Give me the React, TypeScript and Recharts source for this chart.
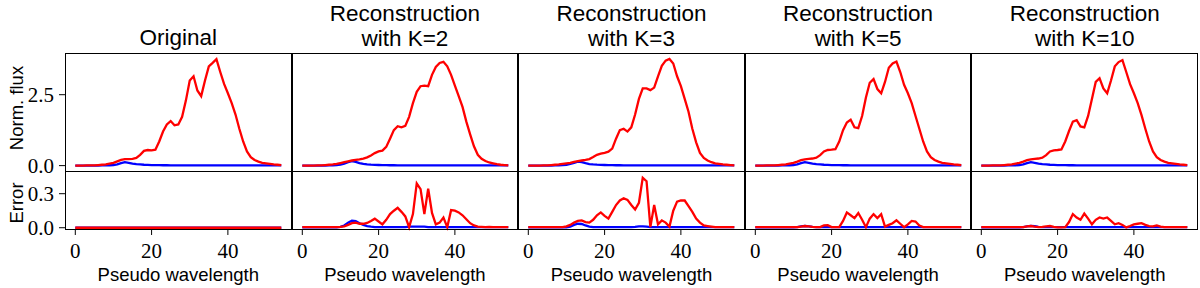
import React from 'react';
import { LineChart, Line, XAxis, YAxis } from 'recharts';

// pseudo wavelength index
const wavelength = Array.from({ length: 55 }, (_, i) => i);

const panelTitles = [
  ['Original'],
  ['Reconstruction', 'with K=2'],
  ['Reconstruction', 'with K=3'],
  ['Reconstruction', 'with K=5'],
  ['Reconstruction', 'with K=10'],
];

// normalised flux, red spectrum
const fluxOriginal = [0, 0, 0, 0.01, 0.01, 0.01, 0.02, 0.03, 0.04, 0.07, 0.1, 0.15, 0.2, 0.23, 0.23, 0.24, 0.27, 0.38, 0.52, 0.55, 0.54, 0.56, 0.85, 1.2, 1.45, 1.57, 1.42, 1.45, 1.72, 2.3, 3.0, 3.15, 2.65, 2.45, 3.0, 3.5, 3.62, 3.75, 3.3, 2.88, 2.55, 2.2, 1.8, 1.3, 0.85, 0.5, 0.3, 0.2, 0.14, 0.1, 0.08, 0.06, 0.04, 0.03, 0.02];
const fluxK2 = [0, 0, 0, 0, 0.01, 0.01, 0.02, 0.03, 0.04, 0.06, 0.09, 0.12, 0.15, 0.18, 0.2, 0.22, 0.25, 0.29, 0.36, 0.44, 0.5, 0.53, 0.66, 0.95, 1.25, 1.39, 1.35, 1.4, 1.72, 2.2, 2.6, 2.8, 2.82, 2.8, 3.2, 3.48, 3.62, 3.66, 3.5, 3.2, 2.82, 2.45, 2.07, 1.55, 1.1, 0.68, 0.38, 0.24, 0.16, 0.11, 0.08, 0.05, 0.03, 0.02, 0.01];
const fluxK3 = [0, 0, 0, 0, 0.01, 0.01, 0.02, 0.03, 0.04, 0.06, 0.08, 0.1, 0.13, 0.16, 0.18, 0.2, 0.23, 0.3, 0.38, 0.42, 0.45, 0.49, 0.6, 0.95, 1.25, 1.3, 1.2, 1.35, 1.8, 2.35, 2.72, 2.72, 2.66, 2.75, 3.15, 3.52, 3.7, 3.76, 3.6, 3.15, 2.8, 2.35, 1.9, 1.3, 0.82, 0.45, 0.27, 0.18, 0.12, 0.08, 0.06, 0.04, 0.03, 0.02, 0.01];
const fluxK5 = [0, 0, 0, 0.01, 0.01, 0.01, 0.02, 0.03, 0.04, 0.07, 0.1, 0.14, 0.19, 0.22, 0.24, 0.25, 0.28, 0.37, 0.5, 0.55, 0.56, 0.58, 0.85, 1.25, 1.52, 1.62, 1.35, 1.32, 1.75, 2.4, 2.92, 3.05, 2.7, 2.55, 2.95, 3.45, 3.6, 3.67, 3.3, 2.85, 2.55, 2.2, 1.75, 1.3, 0.85, 0.5, 0.3, 0.2, 0.14, 0.1, 0.08, 0.06, 0.04, 0.03, 0.02];
const fluxK10 = [0, 0, 0, 0.01, 0.01, 0.01, 0.02, 0.03, 0.04, 0.07, 0.1, 0.14, 0.19, 0.22, 0.24, 0.25, 0.28, 0.37, 0.5, 0.54, 0.55, 0.57, 0.85, 1.22, 1.55, 1.6, 1.38, 1.35, 1.75, 2.35, 2.95, 3.08, 2.72, 2.55, 3.0, 3.5, 3.65, 3.72, 3.3, 2.87, 2.55, 2.2, 1.78, 1.3, 0.85, 0.5, 0.3, 0.2, 0.14, 0.1, 0.08, 0.06, 0.04, 0.03, 0.02];

// normalised flux, blue spectrum
const blueOriginal = [0, 0, 0, 0, 0, 0, 0, 0.005, 0.008, 0.012, 0.02, 0.045, 0.085, 0.12, 0.1, 0.07, 0.05, 0.04, 0.03, 0.025, 0.02, 0.018, 0.015, 0.013, 0.012, 0.011, 0.01, 0.01, 0.01, 0.01, 0.01, 0.01, 0.01, 0.01, 0.01, 0.01, 0.01, 0.01, 0.01, 0.01, 0.01, 0.01, 0.008, 0.008, 0.006, 0.005, 0.005, 0.005, 0.005, 0.005, 0.005, 0.005, 0.005, 0.005, 0.005];
const blueK2 = [0, 0, 0, 0, 0, 0, 0, 0.005, 0.01, 0.02, 0.035, 0.07, 0.12, 0.16, 0.13, 0.09, 0.06, 0.045, 0.035, 0.028, 0.022, 0.018, 0.015, 0.013, 0.012, 0.011, 0.01, 0.01, 0.01, 0.01, 0.01, 0.01, 0.01, 0.01, 0.01, 0.01, 0.01, 0.01, 0.01, 0.01, 0.01, 0.01, 0.008, 0.008, 0.006, 0.005, 0.005, 0.005, 0.005, 0.005, 0.005, 0.005, 0.005, 0.005, 0.005];
const blueK3 = [0, 0, 0, 0, 0, 0, 0, 0.005, 0.01, 0.015, 0.03, 0.06, 0.1, 0.14, 0.12, 0.085, 0.055, 0.042, 0.032, 0.026, 0.021, 0.018, 0.015, 0.013, 0.012, 0.011, 0.01, 0.01, 0.01, 0.01, 0.01, 0.01, 0.01, 0.01, 0.01, 0.01, 0.01, 0.01, 0.01, 0.01, 0.01, 0.01, 0.008, 0.008, 0.006, 0.005, 0.005, 0.005, 0.005, 0.005, 0.005, 0.005, 0.005, 0.005, 0.005];
const blueK5 = [0, 0, 0, 0, 0, 0, 0, 0.005, 0.008, 0.012, 0.02, 0.045, 0.085, 0.12, 0.1, 0.07, 0.05, 0.04, 0.03, 0.025, 0.02, 0.018, 0.015, 0.013, 0.012, 0.011, 0.01, 0.01, 0.01, 0.01, 0.01, 0.01, 0.01, 0.01, 0.01, 0.01, 0.01, 0.01, 0.01, 0.01, 0.01, 0.01, 0.008, 0.008, 0.006, 0.005, 0.005, 0.005, 0.005, 0.005, 0.005, 0.005, 0.005, 0.005, 0.005];
const blueK10 = [0, 0, 0, 0, 0, 0, 0, 0.005, 0.008, 0.012, 0.02, 0.045, 0.085, 0.12, 0.1, 0.07, 0.05, 0.04, 0.03, 0.025, 0.02, 0.018, 0.015, 0.013, 0.012, 0.011, 0.01, 0.01, 0.01, 0.01, 0.01, 0.01, 0.01, 0.01, 0.01, 0.01, 0.01, 0.01, 0.01, 0.01, 0.01, 0.01, 0.008, 0.008, 0.006, 0.005, 0.005, 0.005, 0.005, 0.005, 0.005, 0.005, 0.005, 0.005, 0.005];

// absolute error, red spectrum
const errRedOriginal = [0, 0, 0, 0, 0, 0, 0, 0, 0, 0, 0, 0, 0, 0, 0, 0, 0, 0, 0, 0, 0, 0, 0, 0, 0, 0, 0, 0, 0, 0, 0, 0, 0, 0, 0, 0, 0, 0, 0, 0, 0, 0, 0, 0, 0, 0, 0, 0, 0, 0, 0, 0, 0, 0, 0];
const errRedK2 = [0.005, 0.005, 0.005, 0.005, 0.005, 0.005, 0.005, 0.005, 0.005, 0.005, 0.008, 0.012, 0.025, 0.04, 0.045, 0.035, 0.035, 0.042, 0.06, 0.08, 0.055, 0.03, 0.07, 0.12, 0.15, 0.175, 0.14, 0.1, 0.005, 0.12, 0.39, 0.34, 0.12, 0.345, 0.13, 0.03, 0.045, 0.09, 0.005, 0.155, 0.15, 0.135, 0.11, 0.075, 0.04, 0.02, 0.01, 0.008, 0.006, 0.008, 0.006, 0.005, 0.005, 0.005, 0.005];
const errRedK3 = [0.005, 0.005, 0.005, 0.005, 0.005, 0.005, 0.005, 0.005, 0.005, 0.005, 0.012, 0.025, 0.045, 0.06, 0.065, 0.05, 0.045, 0.07, 0.11, 0.135, 0.105, 0.08, 0.14, 0.2, 0.24, 0.26, 0.245, 0.2, 0.16, 0.22, 0.44, 0.41, 0.005, 0.2, 0.03, 0.065, 0.045, 0.01, 0.15, 0.23, 0.24, 0.24, 0.19, 0.14, 0.08, 0.045, 0.02, 0.015, 0.01, 0.005, 0.005, 0.005, 0.005, 0.005, 0.005];
const errRedK5 = [0.005, 0.005, 0.005, 0.005, 0.005, 0.005, 0.005, 0.005, 0.005, 0.005, 0.005, 0.005, 0.01, 0.015, 0.012, 0.008, 0.005, 0.005, 0.02, 0.022, 0.006, 0.005, 0.005, 0.06, 0.135, 0.11, 0.085, 0.13, 0.07, 0.005, 0.08, 0.12, 0.085, 0.12, 0.01, 0.025, 0.04, 0.065, 0.035, 0.005, 0.03, 0.06, 0.055, 0.02, 0.005, 0.005, 0.005, 0.005, 0.005, 0.005, 0.005, 0.005, 0.005, 0.005, 0.005];
const errRedK10 = [0.005, 0.005, 0.005, 0.005, 0.005, 0.005, 0.005, 0.005, 0.005, 0.005, 0.005, 0.005, 0.012, 0.015, 0.01, 0.006, 0.008, 0.012, 0.015, 0.008, 0.003, 0.004, 0.005, 0.05, 0.12, 0.09, 0.07, 0.125, 0.08, 0.03, 0.07, 0.09, 0.08, 0.09, 0.06, 0.03, 0.04, 0.025, 0.003, 0.015, 0.03, 0.035, 0.04, 0.025, 0.015, 0.012, 0.02, 0.01, 0.005, 0.005, 0.005, 0.005, 0.005, 0.005, 0.005];

// absolute error, blue spectrum
const errBlueOriginal = [0, 0, 0, 0, 0, 0, 0, 0, 0, 0, 0, 0, 0, 0, 0, 0, 0, 0, 0, 0, 0, 0, 0, 0, 0, 0, 0, 0, 0, 0, 0, 0, 0, 0, 0, 0, 0, 0, 0, 0, 0, 0, 0, 0, 0, 0, 0, 0, 0, 0, 0, 0, 0, 0, 0];
const errBlueK2 = [0.003, 0.003, 0.003, 0.003, 0.003, 0.003, 0.003, 0.003, 0.003, 0.003, 0.008, 0.02, 0.045, 0.062, 0.058, 0.04, 0.025, 0.015, 0.01, 0.006, 0.006, 0.006, 0.006, 0.006, 0.006, 0.006, 0.006, 0.006, 0.01, 0.01, 0.01, 0.01, 0.01, 0.005, 0.005, 0.005, 0.005, 0.005, 0.005, 0.005, 0.005, 0.005, 0.005, 0.005, 0.005, 0.005, 0.005, 0.005, 0.005, 0.005, 0.005, 0.005, 0.005, 0.005, 0.005];
const errBlueK3 = [0.003, 0.003, 0.003, 0.003, 0.003, 0.003, 0.003, 0.003, 0.003, 0.003, 0.003, 0.01, 0.025, 0.035, 0.033, 0.02, 0.01, 0.005, 0.005, 0.005, 0.005, 0.005, 0.005, 0.005, 0.005, 0.005, 0.005, 0.005, 0.008, 0.012, 0.012, 0.01, 0.005, 0.005, 0.005, 0.005, 0.005, 0.005, 0.005, 0.005, 0.005, 0.005, 0.005, 0.005, 0.005, 0.005, 0.005, 0.005, 0.005, 0.005, 0.005, 0.005, 0.005, 0.005, 0.005];
const errBlueK5 = [0.003, 0.003, 0.003, 0.003, 0.003, 0.003, 0.003, 0.003, 0.003, 0.003, 0.003, 0.006, 0.012, 0.015, 0.012, 0.008, 0.005, 0.005, 0.005, 0.005, 0.005, 0.005, 0.005, 0.005, 0.005, 0.005, 0.005, 0.005, 0.005, 0.005, 0.005, 0.005, 0.005, 0.005, 0.005, 0.005, 0.005, 0.005, 0.005, 0.005, 0.005, 0.005, 0.005, 0.005, 0.005, 0.005, 0.005, 0.005, 0.005, 0.005, 0.005, 0.005, 0.005, 0.005, 0.005];
const errBlueK10 = [0.003, 0.003, 0.003, 0.003, 0.003, 0.003, 0.003, 0.003, 0.003, 0.003, 0.003, 0.006, 0.012, 0.016, 0.013, 0.008, 0.005, 0.005, 0.005, 0.005, 0.005, 0.005, 0.005, 0.005, 0.005, 0.005, 0.005, 0.005, 0.005, 0.005, 0.005, 0.005, 0.005, 0.005, 0.005, 0.005, 0.005, 0.005, 0.005, 0.005, 0.005, 0.005, 0.005, 0.005, 0.005, 0.005, 0.005, 0.005, 0.005, 0.005, 0.005, 0.005, 0.005, 0.005, 0.005];

const fluxRed = [fluxOriginal, fluxK2, fluxK3, fluxK5, fluxK10];
const fluxBlue = [blueOriginal, blueK2, blueK3, blueK5, blueK10];
const errRed = [errRedOriginal, errRedK2, errRedK3, errRedK5, errRedK10];
const errBlue = [errBlueOriginal, errBlueK2, errBlueK3, errBlueK5, errBlueK10];

const xTicks = [0, 20, 40];
const fluxTicks = [0, 2.5];
const errTicks = [0, 0.3];

const PLOT_LEFT = 65;
const PLOT_W = 226.6;
const TOP_Y = 53;
const TOP_H = 118;
const TOP_PAD = 14; // room below the flux plot for its lowest tick label
const ERR_H = 59;
const Y_AXIS_W = 65;
const X_DOMAIN: [number, number] = [-2.7, 56.7];

const serif = '"Liberation Serif", serif';
const sans = '"Liberation Sans", sans-serif';
const tickStyle = { fontSize: 21, fontFamily: serif, fill: '#000' };

function Panel({ idx }: { idx: number }) {
  const left = PLOT_LEFT + idx * PLOT_W;
  const showY = idx === 0;
  const yw = showY ? Y_AXIS_W : 0;
  const top = wavelength.map((x, i) => ({ x, red: fluxRed[idx][i], blue: fluxBlue[idx][i] }));
  const err = wavelength.map((x, i) => ({ x, red: errRed[idx][i], blue: errBlue[idx][i] }));
  const title = panelTitles[idx];

  return (
    <>
      <div
        style={{
          position: 'absolute',
          left,
          width: PLOT_W,
          top: title.length === 1 ? 25 : 1,
          textAlign: 'center',
          fontFamily: sans,
          fontSize: 22.5,
          lineHeight: '25px',
          whiteSpace: 'nowrap',
        }}
      >
        {title.map((t) => (
          <div key={t}>{t}</div>
        ))}
      </div>

      <div style={{ position: 'absolute', left: left - yw, top: TOP_Y + TOP_H }}>
        <LineChart width={PLOT_W + yw} height={ERR_H + 58} data={err} margin={{ top: 0, right: 0, bottom: 0, left: 0 }}>
          <XAxis
            dataKey="x"
            type="number"
            domain={X_DOMAIN}
            ticks={xTicks}
            interval={0}
            height={58}
            axisLine={false}
            tickSize={5}
            tickMargin={8}
            tickLine={{ stroke: '#000' }}
            tick={tickStyle}
          />
          <YAxis
            type="number"
            domain={[-0.02, 0.5]}
            ticks={errTicks}
            interval={0}
            hide={!showY}
            width={Y_AXIS_W}
            axisLine={false}
            tickSize={6}
            tickMargin={5}
            tickLine={{ stroke: '#000' }}
            tick={tickStyle}
            tickFormatter={(v: number) => v.toFixed(1)}
          />
          <Line dataKey="blue" stroke="#0000ff" strokeWidth={2.3} dot={false} isAnimationActive={false} />
          <Line dataKey="red" stroke="#ff0000" strokeWidth={2.3} dot={false} isAnimationActive={false} />
        </LineChart>
      </div>

      <div style={{ position: 'absolute', left: left - yw, top: TOP_Y }}>
        <LineChart
          width={PLOT_W + yw}
          height={TOP_H + TOP_PAD}
          data={top}
          margin={{ top: 0, right: 0, bottom: TOP_PAD, left: 0 }}
        >
          <XAxis dataKey="x" type="number" domain={X_DOMAIN} hide />
          <YAxis
            type="number"
            domain={[-0.19, 3.97]}
            ticks={fluxTicks}
            interval={0}
            hide={!showY}
            width={Y_AXIS_W}
            axisLine={false}
            tickSize={6}
            tickMargin={5}
            tickLine={{ stroke: '#000' }}
            tick={tickStyle}
            tickFormatter={(v: number) => v.toFixed(1)}
          />
          <Line dataKey="blue" stroke="#0000ff" strokeWidth={2.3} dot={false} isAnimationActive={false} />
          <Line dataKey="red" stroke="#ff0000" strokeWidth={2.3} dot={false} isAnimationActive={false} />
        </LineChart>
      </div>

      {/* axes frame */}
      <div
        style={{
          position: 'absolute',
          left,
          top: TOP_Y,
          width: PLOT_W,
          height: TOP_H + ERR_H,
          border: '1px solid #000',
          boxSizing: 'border-box',
          pointerEvents: 'none',
        }}
      />
      <div style={{ position: 'absolute', left, top: TOP_Y + TOP_H - 0.5, width: PLOT_W, height: 1, background: '#000' }} />

      <div
        style={{
          position: 'absolute',
          left,
          width: PLOT_W,
          top: 265,
          textAlign: 'center',
          fontFamily: sans,
          fontSize: 18.5,
          lineHeight: '20px',
        }}
      >
        Pseudo wavelength
      </div>
    </>
  );
}

function RotatedLabel({ text, cy }: { text: string; cy: number }) {
  return (
    <div
      style={{
        position: 'absolute',
        left: 17 - 60,
        top: cy - 10,
        width: 120,
        height: 20,
        lineHeight: '20px',
        textAlign: 'center',
        fontFamily: sans,
        fontSize: 18.5,
        transform: 'rotate(-90deg)',
      }}
    >
      {text}
    </div>
  );
}

export default function App() {
  return (
    <div style={{ position: 'absolute', left: 0, top: 0, width: 1200, height: 288, background: '#fff', overflow: 'hidden' }}>
      {panelTitles.map((_, i) => (
        <Panel key={i} idx={i} />
      ))}
      <RotatedLabel text="Norm. flux" cy={108} />
      <RotatedLabel text="Error" cy={203} />
    </div>
  );
}
